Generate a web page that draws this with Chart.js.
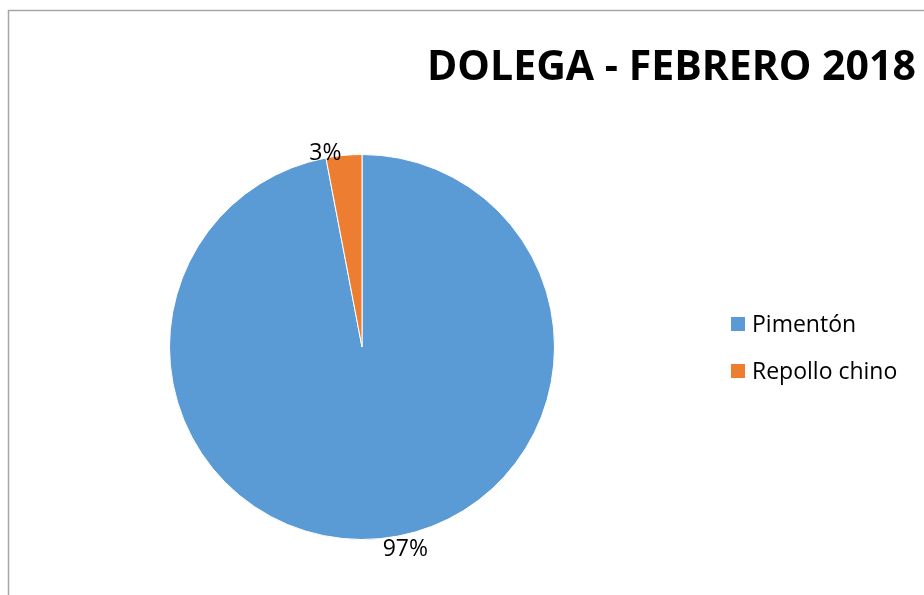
<!DOCTYPE html>
<html>
<head>
<meta charset="utf-8">
<script src="https://cdn.jsdelivr.net/npm/chart.js@4/dist/chart.umd.min.js"></script>
<style>
html,body{margin:0;padding:0;background:#fff;}
#wrap{position:relative;width:924px;height:595px;}
</style>
</head>
<body>
<div id="wrap"><canvas id="c" width="924" height="595"></canvas></div>
<script>
const titleText = "DOLEGA - FEBRERO 2018";
const categories = ["Pimentón", "Repollo chino"];
const values = [97, 3];
const colors = ["#5B9BD5", "#ED7D31"];

const FONT = '"Open Sans", "Liberation Sans", sans-serif';

function fitFont(ctx, text, weight, targetW, base) {
  ctx.font = weight + " " + base + "px " + FONT;
  const w = ctx.measureText(text).width;
  return base * targetW / w;
}

const decor = {
  id: 'decor',
  afterDraw(chart) {
    const ctx = chart.ctx;
    ctx.save();
    // frame
    ctx.strokeStyle = '#a6a6a6';
    ctx.lineWidth = 1.5;
    ctx.beginPath();
    ctx.moveTo(8.5, 600);
    ctx.lineTo(8.5, 10.5);
    ctx.lineTo(930, 10.5);
    ctx.stroke();

    // title
    let ts = fitFont(ctx, titleText, 'bold', 489, 40);
    ctx.font = 'bold ' + ts + 'px ' + FONT;
    ctx.fillStyle = '#000';
    ctx.textAlign = 'left';
    ctx.textBaseline = 'alphabetic';
    ctx.fillText(titleText, 427, 80);

    // data labels
    const meta = chart.getDatasetMeta(0);
    const total = values.reduce((a, b) => a + b, 0);
    const a0 = meta.data[0];
    const cx = a0.x, cy = a0.y, r = a0.outerRadius;
    const pos = [
      [cx + 0.225 * r, cy + r + 10],
      [cx - 0.19 * r, cy - r - 1]
    ];
    ctx.font = '23px ' + FONT;
    ctx.textAlign = 'center';
    ctx.textBaseline = 'middle';
    ctx.fillStyle = '#000';
    values.forEach((v, i) => {
      const txt = Math.round(v / total * 100) + '%';
      ctx.fillText(txt, pos[i][0], pos[i][1]);
    });

    // legend
    const lx = 731, rows = [324, 371];
    ctx.font = '23px ' + FONT;
    ctx.textAlign = 'left';
    ctx.textBaseline = 'middle';
    categories.forEach((c, i) => {
      ctx.fillStyle = colors[i];
      ctx.fillRect(lx, rows[i] - 7, 14, 14);
      ctx.fillStyle = '#000';
      ctx.fillText(c, 752, rows[i] + 1);
    });
    ctx.restore();
  }
};

new Chart(document.getElementById('c'), {
  type: 'pie',
  data: {
    labels: categories,
    datasets: [{
      data: values,
      backgroundColor: colors,
      borderColor: '#ffffff',
      borderWidth: 1
    }]
  },
  options: {
    responsive: false,
    animation: false,
    layout: { padding: { left: 169, right: 369, top: 153, bottom: 54 } },
    plugins: {
      legend: { display: false },
      tooltip: { enabled: false },
      title: { display: false }
    }
  },
  plugins: [decor]
});
</script>
</body>
</html>
